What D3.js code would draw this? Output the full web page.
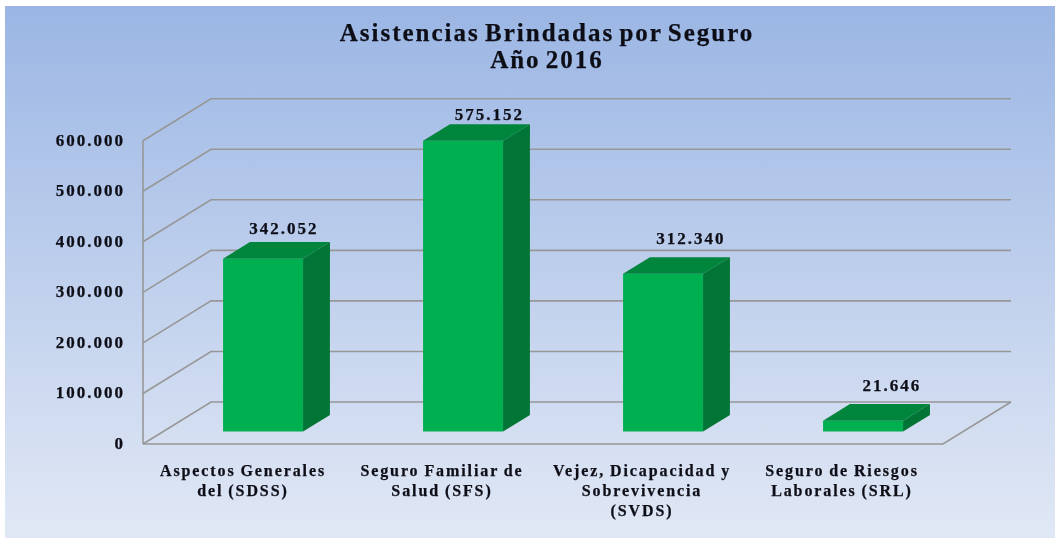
<!DOCTYPE html>
<html>
<head>
<meta charset="utf-8">
<script src="https://cdn.jsdelivr.net/npm/d3@7"></script>
<style>
  html, body { margin: 0; padding: 0; background: #fff; }
  svg { display: block; }
  text { font-family: "Liberation Serif", serif; font-weight: bold; fill: #0e0e18; stroke: #0e0e18; stroke-width: 0.25; }
</style>
</head>
<body>
<svg id="chart" width="1055" height="538"></svg>
<script>
const categories = [
  ['Aspectos Generales', 'del (SDSS)'],
  ['Seguro Familiar de', 'Salud (SFS)'],
  ['Vejez, Dicapacidad y', 'Sobrevivencia', '(SVDS)'],
  ['Seguro de Riesgos', 'Laborales (SRL)']
]
const values = [342052, 575152, 312340, 21646]
const valueLabels = ['342.052', '575.152', '312.340', '21.646']
const ticks = [0, 100000, 200000, 300000, 400000, 500000, 600000]
const titleLines = ['Asistencias Brindadas por Seguro', 'Año 2016']

const svg = d3.select('#chart')

let defs = svg.append('defs')
let grad = defs.append('linearGradient')
    .attr('id', 'bg')
    .attr('x1', 0).attr('y1', 0).attr('x2', 0).attr('y2', 1)
grad.append('stop').attr('offset', '0%').attr('stop-color', '#9bb6e4')
grad.append('stop').attr('offset', '100%').attr('stop-color', '#e1e8f5')
defs.append('filter').attr('id', 'soft')
    .append('feGaussianBlur').attr('stdDeviation', 0.4)

svg.append('rect')
    .attr('x', 5).attr('y', 6)
    .attr('width', 1050).attr('height', 532)
    .attr('fill', 'url(#bg)')

// Front plane of the 3D box, depth is added by project()
let x = d3.scaleBand().domain(d3.range(categories.length)).range([143, 943])
let y = d3.scaleLinear().domain([0, 600000]).range([444, 140.7])
const depth = { x: 68, y: -42 }
const barZ = [0.295, 0.69]

// The labels were placed by hand in the original chart, not on the bar centres
const labelNudge = [[-13, 1.5], [-7.5, 5.5], [-6, -3.5], [-5, -3.5]]

function project (px, value, z) {
  return [px + depth.x * z, y(value) + depth.y * z]
}

function poly (points) {
  return d3.line()(points) + 'Z'
}

// Walls and gridlines
let grid = svg.append('g')
    .attr('fill', 'none')
    .attr('stroke', '#979797')
    .attr('stroke-width', 1.6)

ticks.forEach(t => {
  let left = x.range()[0]
  let right = x.range()[1]
  grid.append('path').attr('d', d3.line()([
    project(left, t, 0),
    project(left, t, 1),
    project(right, t, 1)
  ]))
})

grid.append('path').attr('d', d3.line()([
  project(x.range()[0], 0, 0),
  project(x.range()[1], 0, 0),
  project(x.range()[1], 0, 1)
]))
grid.append('path').attr('d', d3.line()([
  project(x.range()[0], 0, 0),
  project(x.range()[0], 600000, 0)
]))

// Bars
let barWidth = 80
let bars = svg.append('g')
categories.forEach((c, i) => {
  let x0 = x(i) + (x.bandwidth() - barWidth) / 2
  let x1 = x0 + barWidth
  let v = values[i]
  let z0 = barZ[0]
  let z1 = barZ[1]

  bars.append('path')
      .attr('fill', '#00b050')
      .attr('d', poly([project(x0, 0, z0), project(x1, 0, z0), project(x1, v, z0), project(x0, v, z0)]))
  bars.append('path')
      .attr('fill', '#007535')
      .attr('d', poly([project(x1, 0, z0), project(x1, 0, z1), project(x1, v, z1), project(x1, v, z0)]))
  bars.append('path')
      .attr('fill', '#00853c')
      .attr('d', poly([project(x0, v, z0), project(x1, v, z0), project(x1, v, z1), project(x0, v, z1)]))

  let top = project(x0 + barWidth / 2, v, z1)
  svg.append('text')
      .attr('x', top[0] + 7 + labelNudge[i][0])
      .attr('y', top[1] - 10 + labelNudge[i][1])
      .attr('text-anchor', 'middle')
      .attr('font-size', 17)
      .attr('letter-spacing', 2)
      .attr('filter', 'url(#soft)')
      .text(valueLabels[i])
})

// Value axis labels
ticks.forEach(t => {
  svg.append('text')
      .attr('x', 125)
      .attr('y', y(t) + 5)
      .attr('text-anchor', 'end')
      .attr('font-size', 17)
      .attr('letter-spacing', 2)
      .attr('filter', 'url(#soft)')
      .text(d3.format(',')(t).replace(/,/g, '.'))
})

// Category labels
categories.forEach((lines, i) => {
  lines.forEach((line, j) => {
    svg.append('text')
        .attr('x', x(i) + x.bandwidth() / 2 - (i === 0 ? 0 : 1))
        .attr('y', 476 + j * 20)
        .attr('text-anchor', 'middle')
        .attr('font-size', 16)
        .attr('letter-spacing', 1.9)
        .attr('word-spacing', -1)
        .attr('filter', 'url(#soft)')
        .text(line)
  })
})

// Title
titleLines.forEach((line, j) => {
  svg.append('text')
      .attr('x', 547)
      .attr('y', 40.5 + j * 27.5)
      .attr('text-anchor', 'middle')
      .attr('font-size', 25)
      .attr('letter-spacing', 2)
      .attr('word-spacing', -3)
      .attr('filter', 'url(#soft)')
      .text(line)
})
</script>
</body>
</html>
